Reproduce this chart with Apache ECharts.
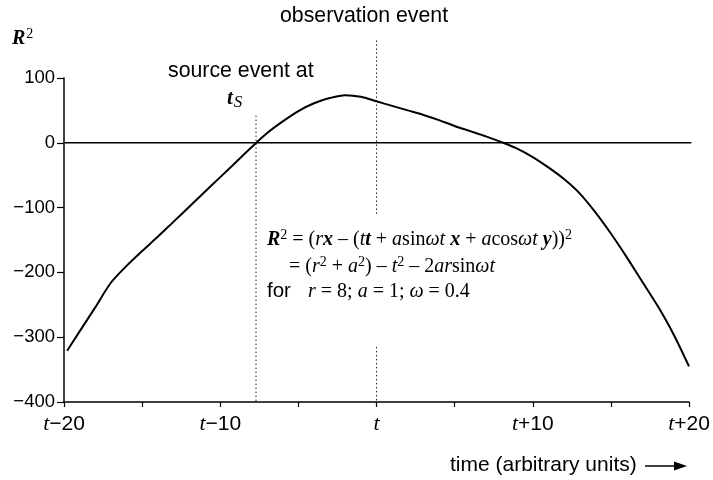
<!DOCTYPE html>
<html>
<head>
<meta charset="utf-8">
<script src="https://cdn.jsdelivr.net/npm/echarts@6/dist/echarts.min.js"></script>
<style>
  html, body { margin: 0; padding: 0; background: #fff; }
  #chart { width: 713px; height: 480px; }
</style>
</head>
<body>
<div id="chart"></div>
<script>
// time offset from the observation event t (arbitrary units)
const tau = [-19.8, -19, -18, -17, -16, -15, -14, -13, -12, -11, -10, -9, -8, -7, -6, -5, -4, -3, -2, -1, 0, 1, 2, 3, 4, 5, 6, 7, 8, 9, 10, 11, 12, 13, 14, 15, 16, 17, 18, 19, 20];
// squared interval R^2 at each time
const r2 = [-321, -291, -254, -216, -190, -167, -145, -122, -99, -76, -53, -30, -7, 15, 33, 49, 61, 69, 73.5, 71, 64, 57, 50, 43, 35, 26, 18, 10, 1, -9, -22, -38, -56, -78, -107, -140, -176, -214, -252, -295, -345];

// event times
const sourceEvent = -7.71;
const observationEvent = 0;

// axis ticks
const yTicks = [100, 0, -100, -200, -300, -400];
const xLabels = { '-20': '−20', '-10': '−10', '0': '', '10': '+10', '20': '+20' };

const serif = 'Liberation Serif, Times New Roman, serif';
const sans = 'Liberation Sans, Arial, sans-serif';

const chart = echarts.init(document.getElementById('chart'), null, { renderer: 'canvas' });

chart.setOption({
  animation: false,
  backgroundColor: '#fff',
  grid: { left: 64, right: 24, top: 78, bottom: 78 },
  xAxis: {
    type: 'value', min: -20, max: 20, interval: 5,
    axisLine: { onZero: false, lineStyle: { color: '#000', width: 1.5 } },
    axisTick: { length: 5, lineStyle: { color: '#000', width: 1.2 } },
    splitLine: { show: false },
    axisLabel: {
      margin: 11,
      formatter: v => (v % 10 === 0 ? '{i|t}{n|' + xLabels[String(v)] + '}' : ''),
      rich: {
        i: { fontFamily: serif, fontStyle: 'italic', fontSize: 22, color: '#000' },
        n: { fontFamily: sans, fontSize: 21, color: '#000' }
      }
    }
  },
  yAxis: {
    type: 'value', min: -400, max: 100, interval: 100,
    axisLine: { show: true, onZero: false, lineStyle: { color: '#000', width: 1.5 } },
    axisTick: { show: true, length: 7, lineStyle: { color: '#000', width: 1.2 } },
    splitLine: { show: false },
    axisLabel: {
      margin: 9,
      fontFamily: sans, fontSize: 18.5, color: '#000',
      formatter: v => (yTicks.includes(v) ? String(v).replace('-', '−') : '')
    }
  },
  series: [{
    type: 'line',
    data: tau.map((t, i) => [t, r2[i]]),
    smooth: 0.3,
    symbol: 'none',
    clip: false,
    z: 3,
    lineStyle: { color: '#000', width: 2 }
  }]
});

// reference lines: zero level and the two event times (dotted, with a gap around the formula)
const px = (x, y) => chart.convertToPixel({ gridIndex: 0 }, [x, y]);
const seg = (a, b, style) => {
  const p = px(a[0], a[1]), q = px(b[0], b[1]);
  return { type: 'line', z: 2, shape: { x1: p[0], y1: p[1], x2: q[0], y2: q[1] }, style: style };
};
const solid = { stroke: '#000', lineWidth: 1.5 };
const dotted = { stroke: '#222', lineWidth: 1, lineDash: [1.5, 2.5] };

const formulaRich = {
  bi: { fontFamily: serif, fontStyle: 'italic', fontWeight: 'bold', fontSize: 20, fill: '#000' },
  i: { fontFamily: serif, fontStyle: 'italic', fontSize: 20, fill: '#000' },
  r: { fontFamily: serif, fontSize: 20, fill: '#000' },
  s: { fontFamily: sans, fontSize: 20.5, fill: '#000' },
  sup: { fontFamily: serif, fontSize: 14, fill: '#000', padding: [0, 0, 9, 0] }
};

chart.setOption({
  graphic: [
    seg([-20, 0], [20.15, 0], solid),
    seg([sourceEvent, 42], [sourceEvent, -400], dotted),
    seg([observationEvent, 158], [observationEvent, -113], dotted),
    seg([observationEvent, -315], [observationEvent, -400], dotted),

    { type: 'text', left: 280, top: 6, style: { text: 'observation event', font: '21.3px ' + sans, fill: '#000' } },
    { type: 'text', left: 168, top: 61, style: { text: 'source event at', font: '21.3px ' + sans, fill: '#000' } },
    { type: 'text', left: 12, top: 27, style: {
        text: '{b|R}{s|2}',
        rich: {
          b: { fontFamily: serif, fontStyle: 'italic', fontWeight: 'bold', fontSize: 20, fill: '#000' },
          s: { fontFamily: serif, fontSize: 14, fill: '#000', padding: [0, 0, 9, 1] }
        }
    } },
    { type: 'text', left: 227, top: 88, style: {
        text: '{b|t}{s|S}',
        rich: {
          b: { fontFamily: serif, fontStyle: 'italic', fontWeight: 'bold', fontSize: 21, fill: '#000' },
          s: { fontFamily: serif, fontStyle: 'italic', fontSize: 17, fill: '#000', padding: [9, 0, 0, 1] }
        }
    } },
    { type: 'text', left: 267, top: 228, style: {
        text: '{bi|R}{sup|2}{r| = (}{i|r}{bi|x}{r| – (}{i|t}{bi|t}{r| + }{i|a}{r|sin}{i|ωt }{bi|x}{r| + }{i|a}{r|cos}{i|ωt }{bi|y}{r|))}{sup|2}',
        rich: formulaRich
    } },
    { type: 'text', left: 289, top: 255, style: {
        text: '{r|= (}{i|r}{sup|2}{r| + }{i|a}{sup|2}{r|) – }{i|t}{sup|2}{r| – 2}{i|ar}{r|sin}{i|ωt}',
        rich: formulaRich
    } },
    { type: 'text', left: 267, top: 281, style: {
        text: '{s|for   }{i|r}{r| = 8; }{i|a}{r| = 1; }{i|ω}{r| = 0.4}',
        rich: formulaRich
    } },

    { type: 'text', left: 450, top: 455, style: { text: 'time (arbitrary units)', font: '21px ' + sans, fill: '#000' } },
    { type: 'line', shape: { x1: 645, y1: 466, x2: 679, y2: 466 }, style: { stroke: '#000', lineWidth: 1.5 } },
    { type: 'polygon', shape: { points: [[674, 461.5], [687, 466], [674, 470.5]] }, style: { fill: '#000' } }
  ]
});
</script>
</body>
</html>
